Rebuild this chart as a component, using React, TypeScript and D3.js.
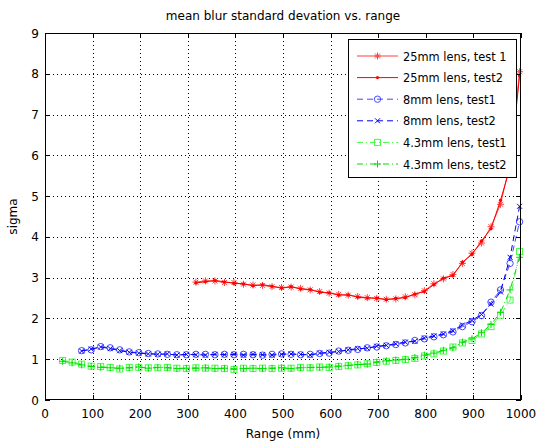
import React from "react";
import * as d3 from "d3";

const title = "mean blur standard devation vs. range";
const xLabel = "Range (mm)";
const yLabel = "sigma";
const xTicks = [0, 100, 200, 300, 400, 500, 600, 700, 800, 900, 1000];
const yTicks = [0, 1, 2, 3, 4, 5, 6, 7, 8, 9];

const redX = [317, 337, 357, 377, 397, 417, 437, 457, 477, 497, 517, 537, 557, 577, 597, 617, 637, 657, 677, 697, 717, 737, 757, 777, 797, 817, 837, 857, 877, 897, 917, 937, 957, 977, 997];
const red1 = [2.89, 2.92, 2.92, 2.88, 2.88, 2.84, 2.82, 2.81, 2.78, 2.76, 2.77, 2.74, 2.70, 2.66, 2.62, 2.59, 2.57, 2.54, 2.51, 2.49, 2.47, 2.48, 2.53, 2.58, 2.68, 2.85, 2.97, 3.08, 3.35, 3.60, 3.85, 4.25, 4.80, 5.80, 8.05];
const red2 = [2.87, 2.90, 2.93, 2.90, 2.86, 2.85, 2.80, 2.83, 2.79, 2.74, 2.78, 2.72, 2.71, 2.64, 2.63, 2.57, 2.58, 2.52, 2.50, 2.50, 2.46, 2.49, 2.51, 2.60, 2.66, 2.83, 2.99, 3.05, 3.38, 3.57, 3.90, 4.20, 4.90, 5.70, 7.95];

const blueX = [77, 97, 117, 137, 157, 177, 197, 217, 237, 257, 277, 297, 317, 337, 357, 377, 397, 417, 437, 457, 477, 497, 517, 537, 557, 577, 597, 617, 637, 657, 677, 697, 717, 737, 757, 777, 797, 817, 837, 857, 877, 897, 917, 937, 957, 977, 997];
const blue1 = [1.21, 1.23, 1.31, 1.28, 1.23, 1.18, 1.16, 1.14, 1.13, 1.12, 1.11, 1.11, 1.12, 1.12, 1.11, 1.12, 1.11, 1.12, 1.11, 1.10, 1.12, 1.13, 1.12, 1.11, 1.12, 1.14, 1.15, 1.20, 1.22, 1.24, 1.28, 1.30, 1.33, 1.36, 1.40, 1.46, 1.50, 1.55, 1.60, 1.67, 1.80, 1.92, 2.07, 2.40, 2.70, 3.35, 4.37];
const blue2 = [1.20, 1.25, 1.30, 1.26, 1.21, 1.17, 1.15, 1.13, 1.12, 1.13, 1.10, 1.12, 1.11, 1.10, 1.12, 1.11, 1.12, 1.10, 1.12, 1.11, 1.10, 1.12, 1.13, 1.12, 1.10, 1.15, 1.17, 1.19, 1.23, 1.26, 1.27, 1.32, 1.34, 1.38, 1.42, 1.44, 1.52, 1.57, 1.62, 1.70, 1.84, 1.95, 2.10, 2.35, 2.65, 3.50, 4.75];

const greenX = [37, 57, 77, 97, 117, 137, 157, 177, 197, 217, 237, 257, 277, 297, 317, 337, 357, 377, 397, 417, 437, 457, 477, 497, 517, 537, 557, 577, 597, 617, 637, 657, 677, 697, 717, 737, 757, 777, 797, 817, 837, 857, 877, 897, 917, 937, 957, 977, 997];
const green1 = [0.97, 0.93, 0.88, 0.83, 0.82, 0.80, 0.76, 0.80, 0.80, 0.79, 0.79, 0.80, 0.78, 0.77, 0.79, 0.78, 0.78, 0.77, 0.75, 0.78, 0.77, 0.78, 0.77, 0.78, 0.78, 0.80, 0.79, 0.81, 0.80, 0.82, 0.84, 0.86, 0.89, 0.92, 0.95, 0.97, 0.99, 1.02, 1.08, 1.13, 1.20, 1.30, 1.40, 1.46, 1.62, 1.80, 2.08, 2.45, 3.64];
const green2 = [0.95, 0.91, 0.86, 0.82, 0.80, 0.79, 0.78, 0.79, 0.81, 0.78, 0.80, 0.79, 0.77, 0.78, 0.78, 0.79, 0.77, 0.78, 0.76, 0.77, 0.78, 0.77, 0.78, 0.79, 0.77, 0.79, 0.80, 0.80, 0.81, 0.83, 0.85, 0.87, 0.88, 0.93, 0.96, 0.98, 1.00, 1.04, 1.10, 1.15, 1.22, 1.28, 1.42, 1.50, 1.65, 1.85, 2.15, 2.70, 3.50];

const seriesNames = ["25mm lens, test 1", "25mm lens, test2", "8mm lens, test1", "8mm lens, test2", "4.3mm lens, test1", "4.3mm lens, test2"];

type Marker = "star" | "dot" | "circle" | "x" | "square" | "plus";

const series = [
  { name: seriesNames[0], xs: redX, ys: red1, color: "#ff4040", dash: "none", marker: "star" as Marker },
  { name: seriesNames[1], xs: redX, ys: red2, color: "#ff0000", dash: "none", marker: "dot" as Marker },
  { name: seriesNames[2], xs: blueX, ys: blue1, color: "#4848ff", dash: "6,4", marker: "circle" as Marker },
  { name: seriesNames[3], xs: blueX, ys: blue2, color: "#0000ff", dash: "6,4", marker: "x" as Marker },
  { name: seriesNames[4], xs: greenX, ys: green1, color: "#40ff40", dash: "6,3,1,3", marker: "square" as Marker },
  { name: seriesNames[5], xs: greenX, ys: green2, color: "#00dd00", dash: "6,3,1,3", marker: "plus" as Marker },
];

const L = 45, R = 521, T = 33, B = 400;
const FONT = "DejaVu Sans, Verdana, sans-serif";

function MarkerShape({ type, x, y, color }: { type: Marker; x: number; y: number; color: string }) {
  const s = 3.5, d = 2.5;
  switch (type) {
    case "star":
      return <path d={`M${x - s},${y}H${x + s}M${x},${y - s}V${y + s}M${x - d},${y - d}L${x + d},${y + d}M${x - d},${y + d}L${x + d},${y - d}`} stroke={color} fill="none" strokeWidth={1} />;
    case "dot":
      return <circle cx={x} cy={y} r={1.6} fill={color} />;
    case "circle":
      return <circle cx={x} cy={y} r={3.2} fill="none" stroke={color} strokeWidth={1} />;
    case "x":
      return <path d={`M${x - d},${y - d}L${x + d},${y + d}M${x - d},${y + d}L${x + d},${y - d}`} stroke={color} fill="none" strokeWidth={1} />;
    case "square":
      return <rect x={x - 3} y={y - 3} width={6} height={6} fill="none" stroke={color} strokeWidth={1} />;
    case "plus":
      return <path d={`M${x - s},${y}H${x + s}M${x},${y - s}V${y + s}`} stroke={color} fill="none" strokeWidth={1} />;
  }
  return null;
}

export default function App() {
  const x = d3.scaleLinear().domain([0, 1000]).range([L, R]);
  const y = d3.scaleLinear().domain([0, 9]).range([B, T]);

  const legX = 348, legY = 39, legW = 168, legH = 138;
  const rowH = 21.6;

  return (
    <svg width={540} height={443} style={{ position: "absolute", left: 0, top: 0, background: "#fff" }} fontFamily={FONT}>
      <rect x={0} y={0} width={540} height={443} fill="#fff" />
      <rect x={L} y={T} width={R - L} height={B - T} fill="#fff" />
      {/* grid */}
      <g stroke="#000" strokeWidth={1} strokeDasharray="1,3" shapeRendering="crispEdges">
        {xTicks.slice(1, -1).map((t) => (
          <line key={"gx" + t} x1={Math.round(x(t)) + 0.5} x2={Math.round(x(t)) + 0.5} y1={T} y2={B} />
        ))}
        {yTicks.slice(1, -1).map((t) => (
          <line key={"gy" + t} x1={L} x2={R} y1={Math.round(y(t)) + 0.5} y2={Math.round(y(t)) + 0.5} />
        ))}
      </g>
      {/* data */}
      {series.map((s, i) => {
        const pts = s.xs.map((v, j) => [x(v), y(s.ys[j])] as [number, number]);
        return (
          <g key={"s" + i}>
            <path d={d3.line()(pts) || ""} fill="none" stroke={s.color} strokeWidth={1} strokeDasharray={s.dash === "none" ? undefined : s.dash} />
            {pts.map((p, j) => (
              <MarkerShape key={j} type={s.marker} x={p[0]} y={p[1]} color={s.color} />
            ))}
          </g>
        );
      })}
      {/* axes box and ticks */}
      <g stroke="#000" strokeWidth={1} shapeRendering="crispEdges">
        <rect x={L + 0.5} y={T + 0.5} width={R - L - 1} height={B - T - 1} fill="none" />
        {xTicks.map((t) => (
          <g key={"tx" + t}>
            <line x1={Math.round(x(t)) + 0.5} x2={Math.round(x(t)) + 0.5} y1={B} y2={B - 5} />
            <line x1={Math.round(x(t)) + 0.5} x2={Math.round(x(t)) + 0.5} y1={T} y2={T + 5} />
          </g>
        ))}
        {yTicks.map((t) => (
          <g key={"ty" + t}>
            <line x1={L} x2={L + 5} y1={Math.round(y(t)) + 0.5} y2={Math.round(y(t)) + 0.5} />
            <line x1={R - 5} x2={R} y1={Math.round(y(t)) + 0.5} y2={Math.round(y(t)) + 0.5} />
          </g>
        ))}
      </g>
      {/* tick labels */}
      <g fontSize={12} fill="#000">
        {xTicks.map((t) => (
          <text key={"lx" + t} x={x(t)} y={418} textAnchor="middle">{t}</text>
        ))}
        {yTicks.map((t) => (
          <text key={"ly" + t} x={39} y={y(t) + 4.5} textAnchor="end">{t}</text>
        ))}
      </g>
      <text x={(L + R) / 2} y={20} textAnchor="middle" fontSize={12}>{title}</text>
      <text x={(L + R) / 2} y={438} textAnchor="middle" fontSize={12}>{xLabel}</text>
      <text transform={`translate(17,${(T + B) / 2}) rotate(-90)`} textAnchor="middle" fontSize={12}>{yLabel}</text>
      {/* legend */}
      <g>
        <rect x={legX + 0.5} y={legY + 0.5} width={legW} height={legH} fill="#fff" stroke="#000" strokeWidth={1} shapeRendering="crispEdges" />
        {series.map((s, i) => {
          const cy = legY + 17 + i * rowH;
          return (
            <g key={"lg" + i}>
              <line x1={357} x2={398} y1={cy} y2={cy} stroke={s.color} strokeWidth={1} strokeDasharray={s.dash === "none" ? undefined : s.dash} />
              <MarkerShape type={s.marker} x={377.5} y={cy} color={s.color} />
              <text x={403} y={cy + 4.5} fontSize={11.4}>{s.name}</text>
            </g>
          );
        })}
      </g>
    </svg>
  );
}
